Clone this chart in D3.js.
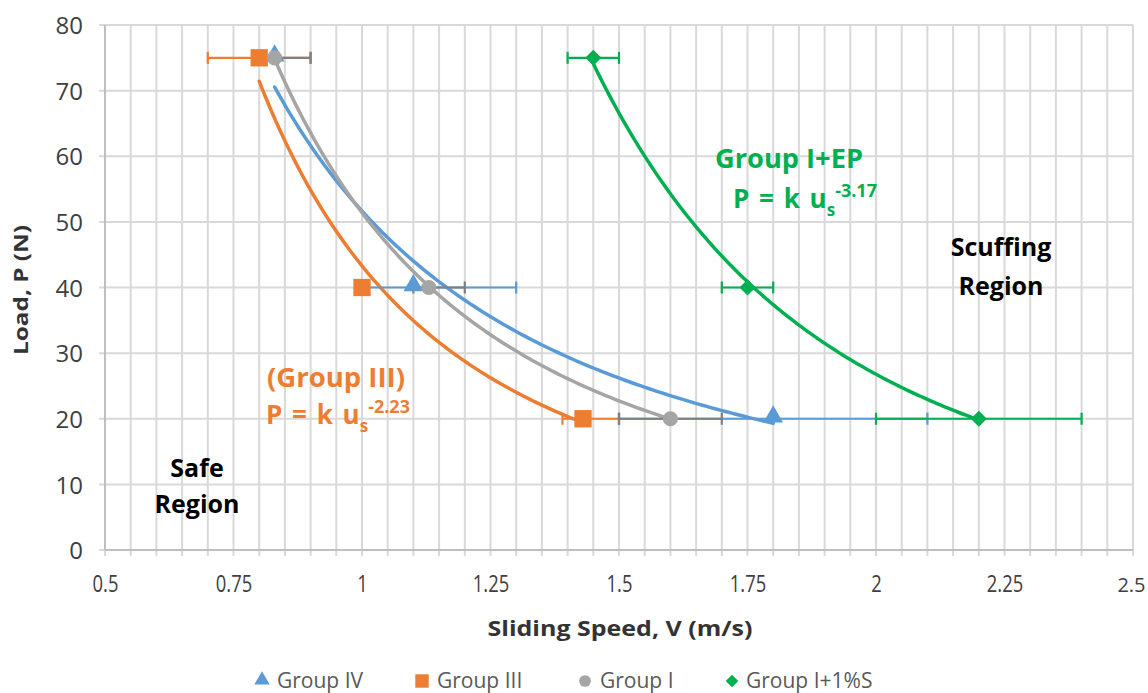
<!DOCTYPE html>
<html>
<head>
<meta charset="utf-8">
<script src="https://cdn.jsdelivr.net/npm/d3@7"></script>
<style>
  html, body { margin: 0; padding: 0; background: #fff; }
  svg { display: block; font-family: "Open Sans", "Noto Sans", sans-serif; }
</style>
</head>
<body>
<svg id="chart" width="1148" height="693"></svg>
<script>
// Scuffing load vs sliding speed for four lubricant groups
const loads = [75, 40, 20];

const groupIVSpeed   = [0.83, 1.10, 1.80];
const groupIIISpeed  = [0.80, 1.00, 1.43];
const groupISpeed    = [0.83, 1.13, 1.60];
const groupIEPSpeed  = [1.45, 1.75, 2.20];

// horizontal error bar ends (low, high); null = no bar
const groupIVErr   = [null, [1.00, 1.30], [1.50, 2.10]];
const groupIIIErr  = [[0.70, 0.90], null, [1.39, 1.50]];
const groupIErr    = [[0.80, 0.90], [1.10, 1.20], [1.50, 1.70]];
const groupIEPErr  = [[1.40, 1.50], [1.70, 1.80], [2.00, 2.40]];

const seriesNames = ["Group IV", "Group III", "Group I", "Group I+1%S"];

const xTickValues = [0.5, 0.75, 1, 1.25, 1.5, 1.75, 2, 2.25, 2.5];
const xTickLabels = ["0.5", "0.75", "1", "1.25", "1.5", "1.75", "2", "2.25", "2.5"];
const yTickValues = [0, 10, 20, 30, 40, 50, 60, 70, 80];

const series = [
  { name: seriesNames[0], x: groupIVSpeed,  err: groupIVErr,  color: "#5B9BD5", errColor: "#5B9BD5", shape: "triangle" },
  { name: seriesNames[1], x: groupIIISpeed, err: groupIIIErr, color: "#ED7D31", errColor: "#ED7D31", shape: "square" },
  { name: seriesNames[2], x: groupISpeed,   err: groupIErr,   color: "#A5A5A5", errColor: "#7F7F7F", shape: "circle" },
  { name: seriesNames[3], x: groupIEPSpeed, err: groupIEPErr, color: "#00B050", errColor: "#00B050", shape: "diamond" }
];

const svg = d3.select("#chart");
const margin = { left: 105, right: 15, top: 25, bottom: 143 };
const W = 1148, H = 693;

const x = d3.scaleLinear().domain([0.5, 2.5]).range([margin.left, W - margin.right]);
const y = d3.scaleLinear().domain([0, 80]).range([H - margin.bottom, margin.top]);

// gridlines
const grid = svg.append("g");
grid.selectAll("line.v").data(d3.range(0, 41).map(i => 0.5 + i * 0.05)).join("line")
  .attr("x1", d => x(d)).attr("x2", d => x(d))
  .attr("y1", y(80)).attr("y2", y(0) + 6)
  .attr("stroke", "#D9D9D9").attr("stroke-width", 2);
grid.selectAll("line.h").data(yTickValues).join("line")
  .attr("x1", x(0.5) - 6).attr("x2", x(2.5))
  .attr("y1", d => y(d)).attr("y2", d => y(d))
  .attr("stroke", "#D9D9D9").attr("stroke-width", 2);

// axis lines
svg.append("line").attr("x1", x(0.5)).attr("x2", x(0.5)).attr("y1", y(80)).attr("y2", y(0))
  .attr("stroke", "#BFBFBF").attr("stroke-width", 2);
svg.append("line").attr("x1", x(0.5)).attr("x2", x(2.5)).attr("y1", y(0)).attr("y2", y(0))
  .attr("stroke", "#BFBFBF").attr("stroke-width", 2);

// narrow a text element horizontally to a fraction of its natural width
function condense(sel, f) {
  sel.each(function () {
    const w = this.getComputedTextLength();
    d3.select(this).attr("textLength", w * f).attr("lengthAdjust", "spacingAndGlyphs");
  });
}

// tick labels
const xAxis = d3.axisBottom(x).tickValues(xTickValues).tickSize(0)
  .tickFormat((d, i) => xTickLabels[i]);
const gx = svg.append("g").attr("transform", `translate(0,${y(0)})`).call(xAxis);
gx.select(".domain").remove();
gx.selectAll("text").attr("font-size", 23).attr("fill", "#404040")
  .attr("font-family", "Open Sans").attr("dy", "0").attr("y", 42);
condense(gx.selectAll("text").filter(d => d !== 2.5), 0.8);
// the last label sits against the right page edge
gx.selectAll("text").filter(d => d === 2.5)
  .attr("font-size", 20).attr("text-anchor", "end").attr("x", 12);

const yAxis = d3.axisLeft(y).tickValues(yTickValues).tickSize(0);
const gy = svg.append("g").attr("transform", `translate(${x(0.5)},0)`).call(yAxis);
gy.select(".domain").remove();
gy.selectAll("text").attr("font-size", 24).attr("fill", "#404040")
  .attr("font-family", "Open Sans").attr("x", -22).attr("dy", "0.36em");

// axis titles
svg.append("text").attr("x", 620).attr("y", 636).attr("text-anchor", "middle")
  .attr("font-size", 22).attr("font-weight", 700).attr("fill", "#333")
  .attr("textLength", 265).attr("lengthAdjust", "spacingAndGlyphs")
  .text("Sliding Speed, V (m/s)");
svg.append("text").attr("transform", "translate(28,290) rotate(-90)").attr("text-anchor", "middle")
  .attr("font-size", 20).attr("font-weight", 700).attr("fill", "#333")
  .attr("textLength", 130).attr("lengthAdjust", "spacingAndGlyphs")
  .text("Load, P (N)");

// power-law trendlines P = k V^b fitted in log space
function powerFit(xs, ys) {
  const lx = xs.map(Math.log), ly = ys.map(Math.log);
  const mx = d3.mean(lx), my = d3.mean(ly);
  const b = d3.sum(lx.map((v, i) => (v - mx) * (ly[i] - my))) / d3.sum(lx.map(v => (v - mx) ** 2));
  const k = Math.exp(my - b * mx);
  return { k, b };
}
const line = d3.line().x(d => x(d[0])).y(d => y(d[1])).curve(d3.curveLinear);
series.forEach(s => {
  const f = powerFit(s.x, loads);
  const [x0, x1] = d3.extent(s.x);
  const pts = d3.range(0, 121).map(i => {
    const v = x0 + (x1 - x0) * i / 120;
    return [v, f.k * Math.pow(v, f.b)];
  });
  svg.append("path").datum(pts).attr("d", line)
    .attr("fill", "none").attr("stroke", s.color).attr("stroke-width", 3.5)
    .attr("stroke-linecap", "round");
});

// error bars
series.forEach(s => {
  const g = svg.append("g").attr("stroke", s.errColor).attr("stroke-width", 2.2);
  s.err.forEach((e, i) => {
    if (!e) return;
    const yy = y(loads[i]);
    g.append("line").attr("x1", x(e[0])).attr("x2", x(e[1])).attr("y1", yy).attr("y2", yy);
    e.forEach(v => g.append("line").attr("x1", x(v)).attr("x2", x(v)).attr("y1", yy - 6).attr("y2", yy + 6));
  });
});

// markers
function marker(sel, shape, scale) {
  const sz = { triangle: 170, square: 300, circle: 180, diamond: 130 }[shape] * scale;
  const type = { triangle: d3.symbolTriangle, square: d3.symbolSquare, circle: d3.symbolCircle, diamond: d3.symbolSquare }[shape];
  sel.attr("d", d3.symbol().type(type).size(sz)());
  return sel;
}
series.forEach(s => {
  s.x.forEach((v, i) => {
    const p = svg.append("path").attr("fill", s.color);
    marker(p, s.shape, 1);
    const rot = s.shape === "diamond" ? " rotate(45)" : "";
    const dy = s.shape === "triangle" ? -2 : 0;
    p.attr("transform", `translate(${x(v)},${y(loads[i]) + dy})${rot}`);
  });
});

// annotations
function formula(xPos, yPos, color, exponent, first) {
  const g = svg.append("g").attr("fill", color).attr("font-weight", 700);
  if (first) {
    g.append("text").attr("x", first.x).attr("y", first.y).attr("font-size", 27)
      .attr("textLength", first.w).attr("lengthAdjust", "spacingAndGlyphs").text(first.text);
  }
  const t = g.append("text").attr("x", xPos).attr("y", yPos).attr("font-size", 26);
  t.append("tspan").attr("word-spacing", 3).text("P = k u");
  t.append("tspan").attr("font-size", 17).attr("dy", 8).text("s");
  t.append("tspan").attr("font-size", 18).attr("dy", -19).text(exponent);
}
formula(733, 208, "#00B050", "-3.17", { x: 715, y: 168, w: 148, text: "Group I+EP" });
formula(266, 424, "#ED7D31", "-2.23", { x: 267, y: 387, w: 138, text: "(Group III)" });

const regionText = [
  { lines: ["Safe", "Region"], x: 197, y: [477, 513] },
  { lines: ["Scuffing", "Region"], x: 1001, y: [256, 295] }
];
regionText.forEach(r => {
  r.lines.forEach((l, i) => {
    svg.append("text").attr("x", r.x).attr("y", r.y[i]).attr("text-anchor", "middle")
      .attr("font-size", 25).attr("font-weight", 700).attr("fill", "#000").text(l);
  });
});

// legend
const legendPos = [
  { sx: 262, tx: 277 },
  { sx: 422, tx: 437 },
  { sx: 585, tx: 600 },
  { sx: 732, tx: 746 }
];
series.forEach((s, i) => {
  const ly = 681;
  const p = svg.append("path").attr("fill", s.color);
  marker(p, s.shape, 0.6);
  const rot = s.shape === "diamond" ? " rotate(45)" : "";
  p.attr("transform", `translate(${legendPos[i].sx},${ly - (s.shape === "triangle" ? 1 : 0)})${rot}`);
  svg.append("text").attr("x", legendPos[i].tx).attr("y", ly + 7)
    .attr("font-size", 21).attr("fill", "#595959").text(s.name);
});
</script>
</body>
</html>
